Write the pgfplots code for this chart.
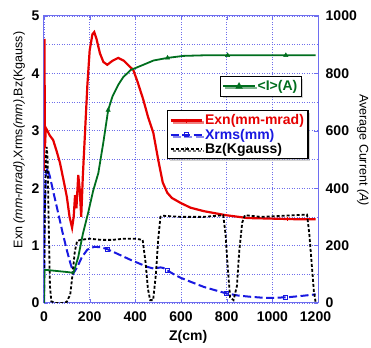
\documentclass[border=0pt]{standalone}
\usepackage{fontspec}
\setmainfont{Liberation Sans}
\usepackage{pgfplots}
\pgfplotsset{compat=1.18}
\usetikzlibrary{shadows}
\definecolor{cRed}{RGB}{230,0,0}
\definecolor{cBlue}{RGB}{25,25,225}
\definecolor{cGreen}{RGB}{0,110,30}
\definecolor{cAxis}{RGB}{110,110,240}
\definecolor{cGrid}{RGB}{110,110,235}
\pgfplotsset{
  legend image code/.code={\draw[#1,mark repeat=2,mark phase=2] plot coordinates {(0cm,0cm) (0.55cm,0cm) (1.1cm,0cm)};},
  /pgf/number format/1000 sep={},
}
\begin{document}
\begin{tikzpicture}
\begin{axis}[
  name=main,
  width=274pt, height=287pt, scale only axis,
  xmin=0, xmax=1200, ymin=0, ymax=5,
  xtick={0,200,...,1200}, ytick={0,1,2,3,4,5},
  minor ytick={0.5,1.5,2.5,3.5,4.5},
  grid=both,
  major grid style={dash pattern=on 1pt off 1.5pt, cGrid, line width=0.7pt},
  minor grid style={dash pattern=on 1pt off 1.5pt, cGrid, line width=0.7pt},
  axis line style={cAxis, line width=1pt},
  tick style={cAxis},
  major tick length=4pt, minor tick length=0pt,
  /pgf/number format/assume math mode=true,
  /pgf/number format/1000 sep={},
  tick label style={font=\fontsize{14}{16}\selectfont\bfseries, inner sep=0.5pt},
  xticklabel style={yshift=-8pt},
  yticklabel style={xshift=-4pt},
  xticklabel={\ifdim\tick pt=1200pt\hspace*{-5pt}\fi\pgfmathprintnumber{\tick}},
  scaled ticks=false,
  xlabel={\textbf{Z(cm)}},
  xlabel style={at={(axis description cs:0.526,-0.118)}, anchor=center, font=\fontsize{14}{16}\selectfont},
  ylabel={Exn \textit{(mm-mrad)},Xrms\textit{(mm)},Bz(Kgauss)},
  ylabel style={at={(axis description cs:-0.091,0.568)}, anchor=center, font=\fontsize{12.5}{14}\selectfont},
  legend style={at={(axis description cs:0.449,0.672)}, anchor=north west,
    draw=black, line width=1.2pt, fill=white,
    drop shadow={shadow xshift=2pt, shadow yshift=-2pt, fill=gray!70},
    font=\fontsize{14}{15}\selectfont\bfseries, row sep=-1.5pt,
    inner sep=2pt},
  legend cell align=left,
]
% Exn
\addplot[cRed, line width=2.2pt, mark=|, mark size=2pt, mark options={solid,line width=0.8pt}, mark repeat=1000, mark phase=1000] coordinates {
(0,2.3) (2,4.6) (4,2.7) (8,3.05) (15,3.0) (25,2.92) (40,2.84) (55,2.65) (70,2.44) (85,2.15) (100,1.85) (112,1.5) (123,1.31) (130,1.5) (136,1.88) (142,1.65) (150,2.23) (156,2.0) (163,1.5) (170,2.2) (180,3.0) (190,3.8) (200,4.4) (212,4.68) (220,4.72) (230,4.6) (245,4.35) (260,4.2) (277,4.15) (300,4.22) (325,4.27) (350,4.22) (375,4.12) (391,4.06) (410,3.85) (435,3.54) (455,3.25) (479,2.96) (500,2.5) (520,2.1) (540,1.92) (560,1.83) (600,1.74) (642,1.66) (700,1.6) (796,1.53) (892,1.48) (1000,1.47) (1100,1.46) (1190,1.46)
};
\addlegendentry{\textcolor{cRed}{Exn(mm-mrad)}}
% Xrms
\addplot[cBlue, line width=2pt, dash pattern=on 8pt off 3.5pt, mark=square, mark size=2pt, mark options={solid,line width=0.8pt}, mark repeat=1000, mark phase=1000] coordinates {
(0,0) (3,1.5) (8,2.2) (15,2.35) (26,2.2) (40,1.95) (62,1.57) (80,1.25) (100,0.92) (115,0.7) (129,0.52) (145,0.62) (166,0.8) (190,0.93) (220,0.98) (250,0.97) (276,0.94) (320,0.86) (380,0.75) (452,0.63) (480,0.60) (510,0.62) (523,0.61) (560,0.52) (598,0.44) (642,0.37) (700,0.28) (743,0.23) (796,0.17) (850,0.13) (900,0.11) (963,0.09) (1000,0.09) (1067,0.10) (1120,0.12) (1190,0.15)
};
\addlegendentry{\textcolor{cBlue}{Xrms(mm)}}
% Bz
\addplot[black, line width=1.8pt, dash pattern=on 3pt off 2pt, mark=x, mark size=2pt, mark options={solid,line width=0.6pt}, mark repeat=1000, mark phase=1000] coordinates {
(0,0) (3,1.5) (8,2.5) (12,2.72) (16,2.5) (20,1.5) (26,0.3) (32,0.03) (50,0.0) (80,0.0) (100,0.02) (115,0.15) (125,0.5) (135,0.9) (145,1.08) (160,1.1) (200,1.12) (250,1.1) (300,1.1) (350,1.12) (400,1.12) (432,1.1) (445,0.7) (455,0.25) (465,0.05) (478,0.05) (490,0.5) (500,1.1) (510,1.5) (520,1.52) (600,1.5) (700,1.5) (785,1.53) (795,1.2) (805,0.6) (815,0.1) (830,0.05) (845,0.3) (855,0.9) (868,1.4) (880,1.53) (950,1.5) (1050,1.52) (1152,1.54) (1162,1.2) (1172,0.7) (1182,0.2) (1190,0.0)
};
\addlegendentry{Bz(Kgauss)}
\addplot[only marks, cRed, mark=|, mark size=2pt, mark options={line width=0.8pt}, forget plot] coordinates {(1068,1.46)};
\addplot[only marks, cBlue, mark=square, mark size=2pt, mark options={line width=0.8pt}, forget plot] coordinates {(276,0.94) (540,0.57) (800,0.17) (1059,0.10)};
\end{axis}
\begin{axis}[
  width=274pt, height=287pt, scale only axis,
  xmin=0, xmax=1200, ymin=0, ymax=1000,
  axis x line=none,
  axis y line*=right,
  ytick={0,200,...,1000},
  axis line style={cAxis, line width=1pt},
  tick style={cAxis},
  major tick length=4pt,
  /pgf/number format/assume math mode=true,
  /pgf/number format/1000 sep={},
  tick label style={font=\fontsize{14}{16}\selectfont\bfseries, inner sep=0.5pt},
  yticklabel style={xshift=7pt},
  ylabel={Average Current \textit{(A)}},
  ylabel style={at={(axis description cs:1.164,0.533)}, anchor=center, rotate=180, font=\fontsize{12.5}{14}\selectfont},
  legend style={at={(axis description cs:0.642,0.791)}, anchor=north west,
    draw=black, line width=1.2pt, fill=white,
    drop shadow={shadow xshift=2pt, shadow yshift=-2pt, fill=gray!70},
    font=\fontsize{14}{15}\selectfont\bfseries, inner sep=2pt},
]
\addplot[cGreen, line width=1.8pt, mark=triangle*, mark size=2.5pt, mark options={solid}, mark repeat=1000, mark phase=1000] coordinates {
(0,0) (2,115) (13,115) (50,112) (100,108) (129,105) (150,160) (170,240) (193,313) (215,390) (238,453) (260,560) (281,672) (300,720) (325,760) (347,787) (380,812) (435,830) (480,845) (541,854) (611,861) (700,863) (800,863) (900,863) (1000,863) (1100,863) (1190,863)
};
\addlegendentry{\textcolor{cGreen}{<I>(A)}}
\addplot[only marks, cGreen, mark=triangle*, mark size=2.5pt, forget plot] coordinates {(281,672) (541,854) (804,863) (1059,863)};
\end{axis}
\pgfresetboundingbox
\path[use as bounding box] ([shift={(-44pt,-44pt)}]main.south west) rectangle ([shift={(53pt,16pt)}]main.north east);
\end{tikzpicture}
\end{document}
